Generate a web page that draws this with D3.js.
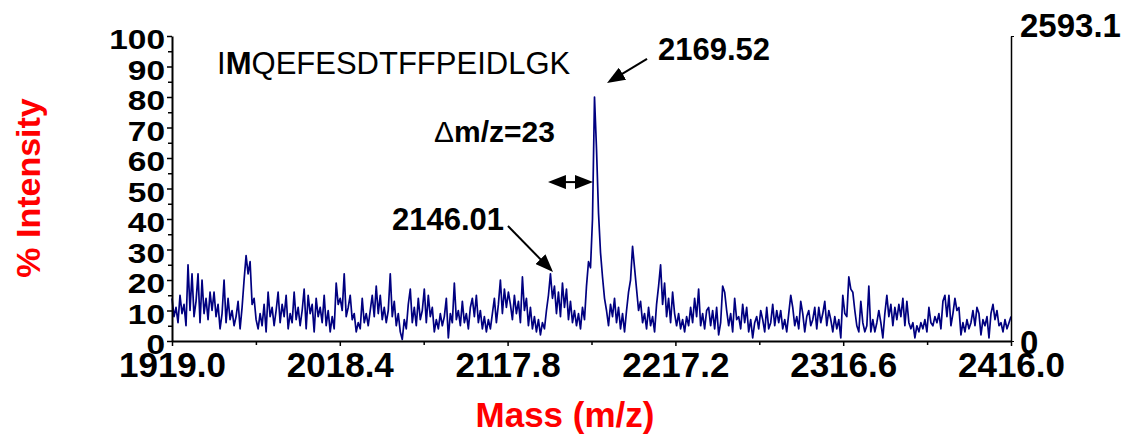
<!DOCTYPE html>
<html>
<head>
<meta charset="utf-8">
<script src="https://cdn.jsdelivr.net/npm/d3@7"></script>
<style>
  body { margin: 0; background: #fff; }
  svg { display: block; }
</style>
</head>
<body>
<script>
// axis settings
var mzStart = 1919.0;
var mzEnd = 2416.0;
var xTicks = [1919.0, 2018.4, 2117.8, 2217.2, 2316.6, 2416.0];
var yTicks = [0, 10, 20, 30, 40, 50, 60, 70, 80, 90, 100];
var yMinorTicks = [5, 15, 25, 35, 45, 55, 65, 75, 85, 95];
var rightTicks = [0, 2593.1];

// % intensity, evenly spaced over mzStart..mzEnd
var intensityA = [
  14,8,11,6,15,9,12,5,25,10, 22,8,13,22,6,20,9,14,7,16,
  10,16,8,12,4,9,20,6,14,7, 10,5,8,13,4,11,20,28,22,26,
  12,14,7,4,9,5,12,3,16,8, 11,5,10,16,6,12,8,15,4,9,
  6,16,7,11,5,10,17,4,15,9, 12,3,14,8,11,6,15,5,10,3,
  8,4,19,12,14];
var intensityB = [
  10,22,8,11,15,7,9,3,6,4, 14,6,9,5,10,15,8,18,9,15,
  7,11,6,10,22,8,13,5,9,3, 0.5,7,4,12,17,6,11,5,14,7,
  10,17,6,15,8,11,3,7,4,9, 5,8,14,1,9,6,19,7,10,5,
  13,6,9,4,11,14,8,15,6,10, 4,8,3,7,4,9,14,6,12,20,
  9,17,11,16];
var intensityC = [
  12,7,15,9,13,6,21,10,14,5, 11,4,8,3,7,2,6,4,10,15,
  22,14,18,9,16,8,19,11,17,7, 13,6,10,5,9,4,11,7,18,26,
  24,40,80,63,42,29,21,14,10,5, 12,8,14,6,11,4,9,3,10,16,
  20,31,24,17,10,13,6,9,4,11, 5,8,3,12,18,25,12,19,8,14,
  6,16,9,5];
var intensityD = [
  9,4,7,3,8,5,11,6,14,8, 17,5,9,4,10,11,5,10,4,11,
  2,6,18,16,10,5,9,3,14,7, 8,4,12,6,11,3,7,1,6,8,
  4,10,7,3,11,4,6,12,5,10, 6,10,4,7,3,9,15,11,5,8,
  4,13,9,3,8,10,5,7,11,4, 11,6,9,13,5,10,7,3,8,4,
  7,1,15,9];
var intensityE = [
  8,21,17,16,10,5,3,13,6,3, 5,18,3,7,3,6,10,6,1,9,
  15,8,12,5,11,7,12,8,14,5, 13,6,4,6,1,5,3,6,4,7,
  3,11,6,5,8,6,9,4,13,15, 8,15,5,9,14,10,11,2,6,3,
  7,4,6,10,5,11,9,2,7,5, 8,1,9,12,7,10,5,6,3,7,
  4,6,8];

var intensity = intensityA.concat(intensityB, intensityC, intensityD, intensityE);
var mzStep = (mzEnd - mzStart) / (intensity.length - 1);
var spectrum = intensity.map(function (v, i) { return { mz: mzStart + i * mzStep, v: v }; });

// annotations, in data units (m/z, % intensity)
var peakLabels = [
  { text: "2169.52", mz: 2206.9, v: 92.1 },
  { text: "2146.01", mz: 2049.3, v: 36.4 }
];
var arrows = [
  { from: [2200.4, 92.5], to: [2176.7, 84.6], both: false },
  { from: [2118.0, 37.7], to: [2144.7, 22.6], both: false },
  { from: [2141.7, 52.1], to: [2168.4, 52.1], both: true }
];

var width = 1138, height = 440;
var font = "'Liberation Sans', Arial, Helvetica, sans-serif";

var svg = d3.select("body").append("svg")
    .attr("width", width)
    .attr("height", height)
    .style("font-family", font);

var x = d3.scaleLinear().domain([mzStart, mzEnd]).range([172, 1011]);
var y = d3.scaleLinear().domain([0, 100]).range([341, 36]);
var yRight = d3.scaleLinear().domain([0, 2593.1]).range([341, 36]);

// spectrum
var line = d3.line()
    .x(function (d) { return x(d.mz); })
    .y(function (d) { return y(d.v); });

svg.append("path")
    .datum(spectrum)
    .attr("fill", "none")
    .attr("stroke", "#000080")
    .attr("stroke-width", 1.7)
    .attr("stroke-linejoin", "round")
    .attr("d", line);

// left axis
var gy = svg.append("g")
    .attr("transform", "translate(172,0)")
    .call(d3.axisLeft(y).tickValues(yTicks).tickSize(5).tickSizeOuter(0));
gy.select(".domain").attr("stroke-width", 2);
gy.selectAll(".tick line").attr("stroke-width", 1.5);
gy.selectAll(".tick text")
    .attr("font-family", font)
    .attr("font-size", 27)
    .attr("font-weight", "bold")
    .attr("fill", "#000")
    .attr("x", -7 / 1.24)
    .attr("dy", 12.5)
    .attr("transform", "scale(1.24,1)");

var gyMinor = svg.append("g")
    .attr("transform", "translate(172,0)")
    .call(d3.axisLeft(y).tickValues(yMinorTicks).tickSize(4).tickFormat(""));
gyMinor.select(".domain").remove();
gyMinor.selectAll(".tick line").attr("stroke-width", 1.5);

// bottom axis
var gx = svg.append("g")
    .attr("transform", "translate(0,341)")
    .call(d3.axisBottom(x).tickValues(xTicks).tickSize(5).tickSizeOuter(0)
        .tickFormat(d3.format(".1f")));
gx.select(".domain").attr("stroke-width", 2);
gx.selectAll(".tick line").attr("stroke-width", 1.5);
gx.selectAll(".tick text")
    .attr("font-family", font)
    .attr("font-size", 35)
    .attr("font-weight", "bold")
    .attr("fill", "#000")
    .attr("y", 11);

var xMinor = d3.pairs(xTicks).map(function (p) { return (p[0] + p[1]) / 2; });
var gxMinor = svg.append("g")
    .attr("transform", "translate(0,341)")
    .call(d3.axisBottom(x).tickValues(xMinor).tickSize(4).tickFormat(""));
gxMinor.select(".domain").remove();
gxMinor.selectAll(".tick line").attr("stroke-width", 1.5);

// right axis
var gr = svg.append("g")
    .attr("transform", "translate(1011,0)")
    .call(d3.axisRight(yRight).tickValues(rightTicks).tickSize(3).tickSizeOuter(0)
        .tickFormat(function (d) { return d === 0 ? "0" : d3.format(".1f")(d); }));
gr.select(".domain").attr("stroke-width", 1.5);
gr.selectAll(".tick text")
    .attr("font-family", font)
    .attr("font-size", 33)
    .attr("font-weight", "bold")
    .attr("fill", "#000")
    .attr("x", 9)
    .attr("dy", function (d) { return d === 0 ? 12.5 : 0; });

// axis titles
svg.append("text")
    .attr("transform", "translate(40,188) rotate(-90)")
    .attr("text-anchor", "middle")
    .attr("font-size", 34)
    .attr("font-weight", "bold")
    .attr("fill", "#ff0000")
    .text("% Intensity");

svg.append("text")
    .attr("x", 565)
    .attr("y", 427)
    .attr("text-anchor", "middle")
    .attr("font-size", 35)
    .attr("font-weight", "bold")
    .attr("fill", "#ff0000")
    .text("Mass (m/z)");

// peptide sequence
var seq = svg.append("text")
    .attr("x", x(1945.7))
    .attr("y", y(87.5))
    .attr("font-size", 31)
    .attr("fill", "#000");
seq.append("tspan").text("I");
seq.append("tspan").attr("font-weight", "bold").text("M");
seq.append("tspan").text("QEFESDTFFPEIDLGK");

// peak labels
svg.selectAll(".peak-label")
    .data(peakLabels)
    .enter().append("text")
    .attr("class", "peak-label")
    .attr("x", function (d) { return x(d.mz); })
    .attr("y", function (d) { return y(d.v); })
    .attr("font-size", 31)
    .attr("font-weight", "bold")
    .text(function (d) { return d.text; });

var delta = svg.append("text")
    .attr("x", x(2074.2))
    .attr("y", y(65.2))
    .attr("font-size", 30)
    .attr("font-weight", "bold");
delta.append("tspan").attr("font-weight", "normal").text("\u0394");
delta.append("tspan").text("m/z=23");

// arrows
svg.append("defs").append("marker")
    .attr("id", "head")
    .attr("markerUnits", "userSpaceOnUse")
    .attr("viewBox", "0 0 18 14")
    .attr("markerWidth", 18)
    .attr("markerHeight", 14)
    .attr("refX", 10)
    .attr("refY", 7)
    .attr("orient", "auto-start-reverse")
    .append("path")
    .attr("d", "M0,0L18,7L0,14Z")
    .attr("fill", "#000");

arrows.forEach(function (a) {
    var x1 = x(a.from[0]), y1 = y(a.from[1]);
    var x2 = x(a.to[0]), y2 = y(a.to[1]);
    var len = Math.sqrt((x2 - x1) * (x2 - x1) + (y2 - y1) * (y2 - y1));
    var ux = (x2 - x1) / len, uy = (y2 - y1) / len;
    var l = svg.append("line")
        .attr("x1", a.both ? x1 + ux * 8 : x1)
        .attr("y1", a.both ? y1 + uy * 8 : y1)
        .attr("x2", x2 - ux * 8)
        .attr("y2", y2 - uy * 8)
        .attr("stroke", "#000")
        .attr("stroke-width", 2)
        .attr("marker-end", "url(#head)");
    if (a.both) l.attr("marker-start", "url(#head)");
});
</script>
</body>
</html>
